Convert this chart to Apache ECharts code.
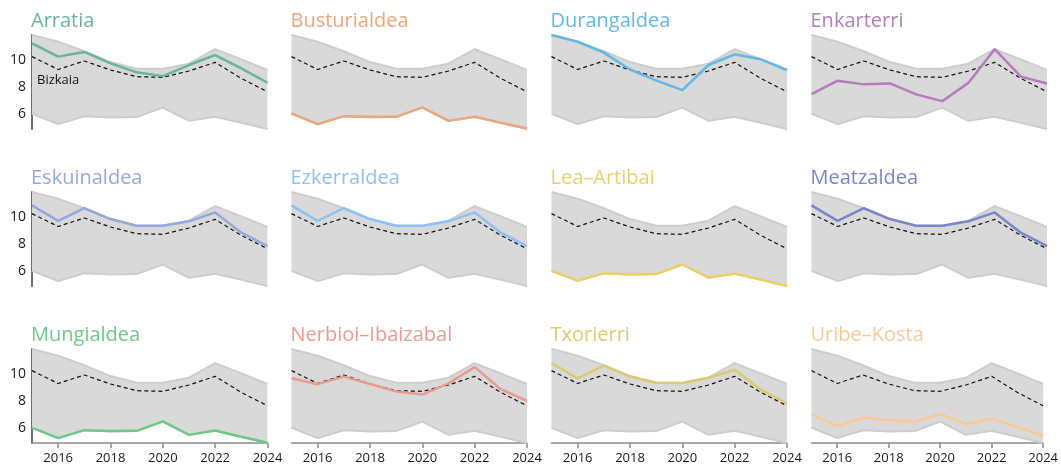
<!DOCTYPE html>
<html>
<head>
<meta charset="utf-8">
<script src="https://cdn.jsdelivr.net/npm/echarts@6/dist/echarts.min.js"></script>
<style>
html,body{margin:0;padding:0;background:#fff;}
#chart{width:1061px;height:466px;}
</style>
</head>
<body>
<div id="chart"></div>
<script>
const years = ['2015','2016','2017','2018','2019','2020','2021','2022','2023','2024'];
const yTickLabels = [6, 8, 10];
const xTickLabels = ['2016','2018','2020','2022','2024'];

const bizkaia       = [10.25, 9.30, 9.93, 9.26, 8.77, 8.72, 9.19, 9.83, 8.64, 7.65];
const arratia       = [11.23, 10.25, 10.60, 9.75, 9.09, 8.81, 9.63, 10.37, 9.38, 8.32];
const busturialdea  = [6.05, 5.26, 5.85, 5.80, 5.80, 6.50, 5.50, 5.80, 5.36, 4.94];
const durangaldea   = [11.85, 11.35, 10.55, 9.30, 8.50, 7.78, 9.63, 10.42, 10.05, 9.26];
const enkarterri    = [7.48, 8.47, 8.20, 8.27, 7.46, 6.96, 8.32, 10.80, 8.77, 8.27];
const eskuinaldea   = [10.86, 9.72, 10.65, 9.85, 9.35, 9.35, 9.68, 10.34, 8.84, 7.85];
const ezkerraldea   = [10.86, 9.72, 10.65, 9.85, 9.35, 9.35, 9.68, 10.34, 8.84, 7.85];
const leaArtibai    = [6.03, 5.30, 5.84, 5.75, 5.78, 6.49, 5.53, 5.83, 5.38, 4.90];
const meatzaldea    = [10.86, 9.72, 10.65, 9.85, 9.35, 9.35, 9.68, 10.34, 8.84, 7.85];
const mungialdea    = [6.04, 5.26, 5.85, 5.78, 5.80, 6.50, 5.50, 5.82, 5.36, 4.92];
const nerbioi       = [9.69, 9.25, 9.81, 9.26, 8.70, 8.48, 9.31, 10.51, 8.88, 8.01];
const txorierri     = [10.80, 9.67, 10.62, 9.82, 9.35, 9.33, 9.73, 10.32, 8.84, 7.82];
const uribeKosta    = [7.01, 6.16, 6.77, 6.60, 6.48, 7.04, 6.31, 6.70, 6.07, 5.45];

const regionNames = ['Arratia','Busturialdea','Durangaldea','Enkarterri','Eskuinaldea','Ezkerraldea','Lea–Artibai','Meatzaldea','Mungialdea','Nerbioi–Ibaizabal','Txorierri','Uribe–Kosta'];
const regionData = [arratia, busturialdea, durangaldea, enkarterri, eskuinaldea, ezkerraldea, leaArtibai, meatzaldea, mungialdea, nerbioi, txorierri, uribeKosta];
const regionColors = ['#69b59b','#eba77c','#62b7e5','#b57cbb','#93a8dc','#8fc0f4','#ebd06a','#7a84c9','#6dc986','#ea9b91','#dccb6b','#fbc895'];

// band = min/max across regions
const bandMin = years.map((_, i) => Math.min(...regionData.map(d => d[i])));
const bandMax = years.map((_, i) => Math.max(...regionData.map(d => d[i])));
const bandDiff = bandMax.map((v, i) => +(v - bandMin[i]).toFixed(4));
const yMin = Math.min(...bandMin);
const yMax = Math.max(...bandMax);

const FONT = '"Open Sans", "Noto Sans", sans-serif';
const colLeft = [32, 291.5, 551.5, 811.5];
const rowTop = [35, 192, 349];
const gW = 235.5, gH = 94;

const grids = [], xAxes = [], yAxes = [], series = [], titles = [];
regionNames.forEach((name, k) => {
  const r = Math.floor(k / 4), c = k % 4;
  grids.push({left: colLeft[c], top: rowTop[r], width: gW, height: gH, containLabel: false});
  const bottomRow = r === 2;
  xAxes.push({
    gridIndex: k, type: 'category', data: years, boundaryGap: false,
    axisLine: {show: bottomRow, lineStyle: {color: '#8a8a8a', width: 1.5}},
    axisTick: {show: bottomRow, interval: (i, v) => xTickLabels.includes(v), length: 5, lineStyle: {color: '#8a8a8a', width: 1.5}},
    axisLabel: {show: bottomRow, interval: (i, v) => xTickLabels.includes(v), color: '#1a1a1a', fontSize: 13, fontFamily: FONT, margin: 9},
    splitLine: {show: false}
  });
  const firstCol = c === 0;
  yAxes.push({
    gridIndex: k, type: 'value', min: yMin, max: yMax,
    axisLine: {show: firstCol, lineStyle: {color: '#6e6e6e', width: 2}},
    axisTick: {show: false},
    splitLine: {show: false},
    axisLabel: {show: firstCol, color: '#1a1a1a', fontSize: 14, fontFamily: FONT, margin: 6,
      showMinLabel: false, showMaxLabel: false,
      formatter: v => yTickLabels.includes(Math.round(v * 1000) / 1000) ? String(v) : ''}
  });
  series.push({type: 'line', xAxisIndex: k, yAxisIndex: k, data: bandMin, stack: 'band' + k, symbol: 'none', silent: true, lineStyle: {opacity: 0}, z: 1});
  series.push({type: 'line', xAxisIndex: k, yAxisIndex: k, data: bandDiff, stack: 'band' + k, symbol: 'none', silent: true, lineStyle: {opacity: 0}, areaStyle: {color: '#d9d9d9', opacity: 1}, z: 1});
  series.push({type: 'line', xAxisIndex: k, yAxisIndex: k, data: bandMin, symbol: 'none', silent: true, lineStyle: {color: '#cdcdcd', width: 2}, z: 2});
  series.push({type: 'line', xAxisIndex: k, yAxisIndex: k, data: bandMax, symbol: 'none', silent: true, lineStyle: {color: '#cdcdcd', width: 2}, z: 2});
  series.push({type: 'line', xAxisIndex: k, yAxisIndex: k, data: bizkaia, symbol: 'none', silent: true, lineStyle: {color: '#111', width: 1.2, type: [4, 3]}, z: 3});
  series.push({type: 'line', xAxisIndex: k, yAxisIndex: k, data: regionData[k], symbol: 'none', silent: true, lineStyle: {color: regionColors[k], width: 2.5}, z: 4});
  titles.push({text: name, left: colLeft[c] - 1, top: rowTop[r] - 24,
    textStyle: {color: regionColors[k], fontSize: 20, fontWeight: 'normal', fontFamily: FONT}, padding: 0});
});

const chart = echarts.init(document.getElementById('chart'), null, {renderer: 'canvas'});
chart.setOption({
  backgroundColor: '#fff',
  animation: false,
  title: titles,
  grid: grids,
  xAxis: xAxes,
  yAxis: yAxes,
  series: series,
  graphic: [{type: 'text', left: 37, top: 74, z: 100, zlevel: 0,
    style: {text: 'Bizkaia', fill: '#111', fontSize: 13, fontFamily: FONT}}]
});
</script>
</body>
</html>
